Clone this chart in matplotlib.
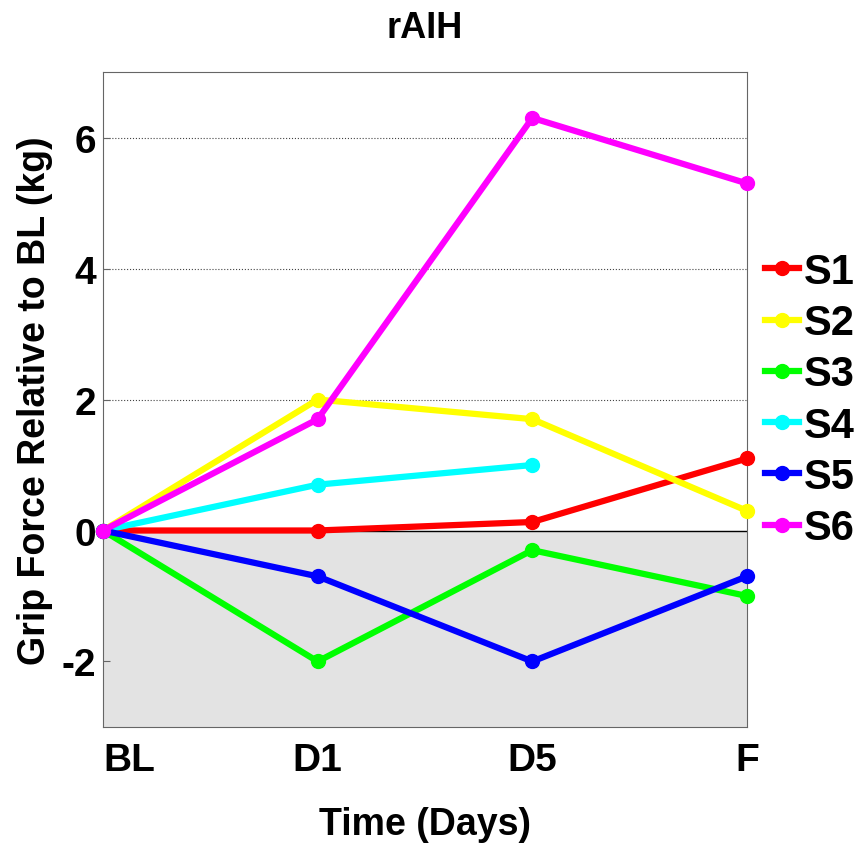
import matplotlib
matplotlib.use('Agg')
import matplotlib.pyplot as plt
import numpy as np

plt.rcParams['font.family'] = ['Liberation Sans', 'DejaVu Sans']
plt.rcParams['font.weight'] = 'bold'
plt.rcParams['axes.unicode_minus'] = False

days = ['BL', 'D1', 'D5', 'F']
s1 = [0, 0, 0.13, 1.1]
s2 = [0, 2.0, 1.7, 0.3]
s3 = [0, -2.0, -0.3, -1.0]
s4 = [0, 0.7, 1.0]
s5 = [0, -0.7, -2.0, -0.7]
s6 = [0, 1.7, 6.3, 5.3]
names = ['S1', 'S2', 'S3', 'S4', 'S5', 'S6']
colors = ['#ff0000', '#ffff00', '#00ff00', '#00ffff', '#0000ff', '#ff00ff']
grid_y = [2, 4, 6]

fig = plt.figure(figsize=(8.59, 8.45), dpi=100)
ax = fig.add_axes([0.1199, 0.1385, 0.7497, 0.775])

ax.axhspan(-3, 0, color='#e3e3e3', zorder=0)
ax.axhline(0, color='black', lw=1, zorder=1)
for g in grid_y:
    ax.axhline(g, color='#444444', ls=':', lw=0.8, zorder=1)

for s, c, n in zip([s1, s2, s3, s4, s5, s6], colors, names):
    ax.plot(range(len(s)), s, '-o', color=c, lw=4.5, ms=10, label=n, zorder=3, clip_on=False)

ax.set_xlim(0, 3)
ax.set_ylim(-3, 7)
ax.set_xticks(range(4))
ax.set_xticklabels(days)
ax.set_yticks([-2, 0, 2, 4, 6])
ax.tick_params(axis='x', labelsize=28, length=0, pad=11)
ax.tick_params(axis='y', labelsize=28, length=5, direction='in', color='#666666', pad=5)
for lab in ax.get_xticklabels() + ax.get_yticklabels():
    lab.set_fontweight('bold')
ax.get_xticklabels()[0].set_horizontalalignment('left')
for sp in ax.spines.values():
    sp.set_color('#666666')

ax.set_title('rAIH', fontsize=26, fontweight='bold', pad=25)
ax.set_xlabel('Time (Days)', fontsize=27, fontweight='bold', labelpad=20)
ax.set_ylabel('Grip Force Relative to BL (kg)', fontsize=27, fontweight='bold', labelpad=6)

leg = fig.legend(loc='center left', bbox_to_anchor=(0.89, 0.5254), frameon=False,
                 handlelength=0.82, handletextpad=0.12, labelspacing=0.27,
                 borderpad=0, borderaxespad=0,
                 prop={'weight': 'bold', 'size': 30})

fig.savefig('out.png', dpi=100)
